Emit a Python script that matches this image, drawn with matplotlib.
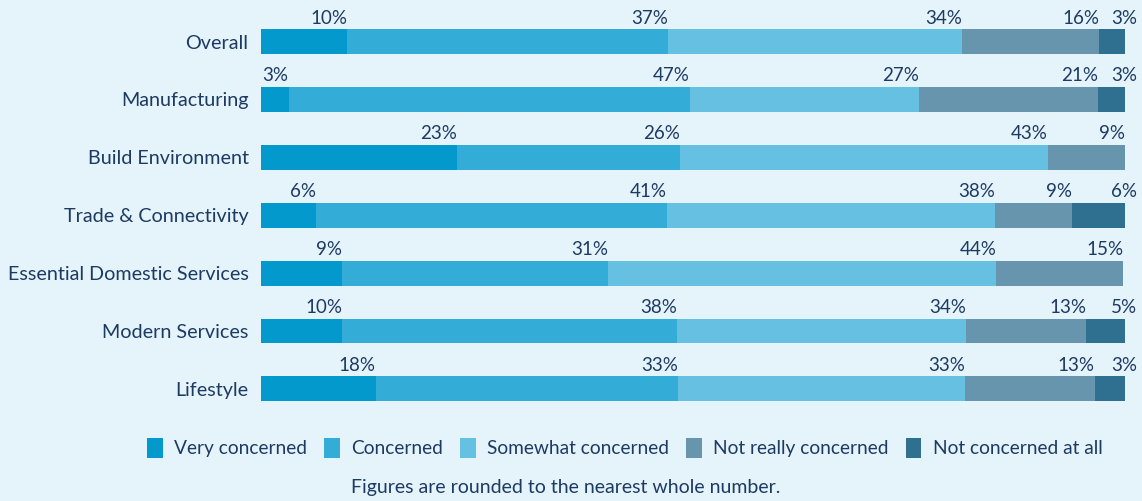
import matplotlib.pyplot as plt

# Rows of the chart, top to bottom
categories = ["Overall", "Manufacturing", "Build Environment", "Trade & Connectivity",
              "Essential Domestic Services", "Modern Services", "Lifestyle"]

series_names = ["Very concerned", "Concerned", "Somewhat concerned",
                "Not really concerned", "Not concerned at all"]

# Segment widths as drawn in the picture (percent of the bar)
very_concerned = [10.0, 3.2, 22.7, 6.4, 9.4, 9.4, 13.3]
concerned = [37.1, 46.4, 25.8, 40.6, 30.8, 38.8, 35.0]
somewhat_concerned = [34.0, 26.5, 42.6, 38.0, 44.9, 33.4, 33.2]
not_really_concerned = [15.9, 20.8, 8.9, 8.9, 14.7, 13.9, 15.0]
not_concerned_at_all = [3.0, 3.1, 0.0, 6.1, 0.0, 4.5, 3.5]

# Labels printed above the segments
very_labels = ["10%", "3%", "23%", "6%", "9%", "10%", "18%"]
concerned_labels = ["37%", "47%", "26%", "41%", "31%", "38%", "33%"]
somewhat_labels = ["34%", "27%", "43%", "38%", "44%", "34%", "33%"]
not_really_labels = ["16%", "21%", "9%", "9%", "15%", "13%", "13%"]
not_at_all_labels = ["3%", "3%", "", "6%", "", "5%", "3%"]

colors = ["#0399cc", "#34acd8", "#66c0e2", "#6795ad", "#2f6f8f"]
bg = "#e5f4fa"
text_color = "#1d3a64"

plt.rcParams['font.family'] = ['Lato', 'DejaVu Sans']

fig = plt.figure(figsize=(11.42, 5.01), dpi=100, facecolor=bg)
ax = fig.add_axes([261 / 1142, 1 - 420 / 501, 864 / 1142, 420 / 501])
ax.set_facecolor(bg)

values = [very_concerned, concerned, somewhat_concerned, not_really_concerned, not_concerned_at_all]
labels = [very_labels, concerned_labels, somewhat_labels, not_really_labels, not_at_all_labels]

bar_h = 0.43
ypos = list(range(len(categories)))
left = [0.0] * len(categories)
for k, (vals, labs) in enumerate(zip(values, labels)):
    ax.barh(ypos, vals, left=left, height=bar_h, color=colors[k], label=series_names[k])
    for i, (v, lab) in enumerate(zip(vals, labs)):
        end = left[i] + v
        if lab:
            dx = 9 if k == 4 else 0
            ax.annotate(lab, (end, i - bar_h / 2), xytext=(dx, 4), textcoords='offset points',
                        ha='right', va='baseline', fontsize=13.5, color=text_color,
                        annotation_clip=False)
    left = [l + v for l, v in zip(left, vals)]

ax.set_xlim(0, 100)
ax.set_ylim(6.537, -0.717)
ax.set_yticks(ypos)
ax.set_yticklabels(categories, fontsize=14.2, color=text_color)
ax.tick_params(axis='y', length=0, pad=9)
ax.set_xticks([])
for s in ax.spines.values():
    s.set_visible(False)

fig.legend(loc='center', bbox_to_anchor=(625 / 1142, 1 - 448 / 501), ncol=5, frameon=False,
           fontsize=13.8, handlelength=0.8, handleheight=1.3, handletextpad=0.6,
           columnspacing=0.9, labelcolor=text_color)

fig.text(566 / 1142, 1 - 488 / 501, "Figures are rounded to the nearest whole number.",
         ha='center', va='center', fontsize=14, color=text_color)

fig.savefig("out.png", dpi=100, facecolor=bg)
